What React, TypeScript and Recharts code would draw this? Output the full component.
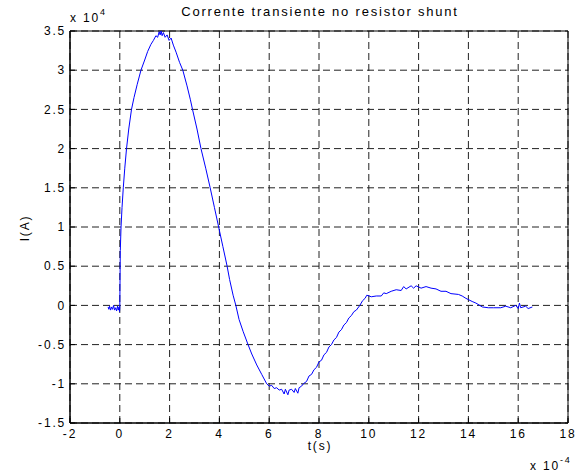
import React from "react";
import { LineChart, Line, XAxis, YAxis, CartesianGrid, ReferenceArea } from "recharts";

// t in units of 1e-4 s, I in units of 1e4 A
const tempo = [
  -0.47, -0.44, -0.41, -0.37, -0.33, -0.29, -0.25, -0.21, -0.17, -0.13, -0.09, -0.06, -0.03, -0.01, 0.0,
  0.01, 0.02, 0.05, 0.09, 0.14, 0.2, 0.27, 0.36, 0.47, 0.57, 0.7, 0.85, 1.0, 1.12, 1.25, 1.35, 1.45,
  1.52, 1.58, 1.62, 1.66, 1.7, 1.75, 1.82, 1.9, 1.98, 2.06, 2.15, 2.26, 2.4, 2.53, 2.7, 2.83, 2.92,
  3.1, 3.26, 3.45, 3.63, 3.8, 3.97, 4.14, 4.31, 4.41, 4.55, 4.66, 4.79, 4.95, 5.15, 5.3, 5.5, 5.7,
  5.9, 6.0, 6.1, 6.2, 6.3, 6.4, 6.5, 6.6, 6.65, 6.75, 6.8, 6.9, 7.0, 7.05, 7.15, 7.2, 7.3, 7.37,
  7.5, 7.6, 7.7, 7.8, 7.9, 8.0, 8.1, 8.2, 8.3, 8.4, 8.5, 8.6, 8.7, 8.8, 8.9, 9.0, 9.1, 9.2, 9.3,
  9.4, 9.5, 9.64, 9.75, 9.85, 9.92, 10.1, 10.3, 10.5, 10.6, 10.7, 10.9, 11.1, 11.3, 11.4, 11.5,
  11.7, 11.8, 11.9, 12.1, 12.3, 12.5, 12.7, 12.9, 13.1, 13.3, 13.6, 13.75, 13.9, 14.15, 14.3,
  14.56, 14.8, 15.0, 15.3, 15.5, 15.7, 15.9, 16.0, 16.05, 16.1, 16.3, 16.4, 16.57,
];

const corrente = [
  -0.02, -0.05, -0.01, -0.06, -0.02, -0.05, 0.0, -0.06, -0.03, -0.07, -0.01, -0.06, -0.02, -0.08, -0.03,
  0.35, 0.7, 1.0, 1.25, 1.5, 1.75, 2.0, 2.25, 2.5, 2.65, 2.82, 3.0, 3.13, 3.24, 3.33, 3.38, 3.44,
  3.42, 3.49, 3.45, 3.5, 3.44, 3.48, 3.42, 3.45, 3.38, 3.41, 3.32, 3.23, 3.1, 3.0, 2.8, 2.63, 2.5,
  2.25, 2.0, 1.75, 1.5, 1.25, 1.0, 0.75, 0.5, 0.33, 0.13, 0.0, -0.18, -0.33, -0.5, -0.62, -0.76, -0.88,
  -1.0, -1.03, -1.02, -1.06, -1.05, -1.08, -1.07, -1.13, -1.07, -1.14, -1.08, -1.07, -1.11, -1.06, -1.12, -1.05, -1.03, -1.0,
  -0.97, -0.9, -0.88, -0.82, -0.79, -0.72, -0.7, -0.63, -0.6, -0.53, -0.5, -0.44, -0.41, -0.34, -0.31, -0.25, -0.22, -0.16, -0.13,
  -0.08, -0.06, 0.0, 0.06, 0.09, 0.13, 0.11, 0.12, 0.12, 0.16, 0.15, 0.18, 0.2, 0.19, 0.24, 0.21,
  0.25, 0.22, 0.25, 0.22, 0.24, 0.22, 0.21, 0.18, 0.18, 0.15, 0.14, 0.12, 0.09, 0.05, 0.03,
  -0.02, -0.03, -0.03, -0.03, -0.01, -0.03, 0.0, -0.04, 0.03, -0.03, -0.01, -0.04, -0.02,
];

const xTicks = [-2, 0, 2, 4, 6, 8, 10, 12, 14, 16, 18];
const yTicks = [-1.5, -1, -0.5, 0, 0.5, 1, 1.5, 2, 2.5, 3, 3.5];

const data = tempo.map((t, i) => ({ t, i: corrente[i] }));

const font = "'Liberation Sans', Arial, sans-serif";
const tickStyle = { fontSize: 12, fill: "#000", fontFamily: font, letterSpacing: 1.8 };

const App: React.FC = () => {
  return (
    <div style={{ position: "absolute", left: 0, top: 0, width: 582, height: 472, background: "#fff" }}>
      <LineChart width={582} height={472} data={data} margin={{ top: 31, right: 14, bottom: 29, left: 30 }}>
        <CartesianGrid stroke="#222" strokeDasharray="7 4" />
        <XAxis
          dataKey="t"
          type="number"
          domain={[-2, 18]}
          ticks={xTicks}
          height={20}
          tick={tickStyle}
          tickSize={-5}
          tickMargin={11}
          stroke="#000"
          interval={0}
        />
        <YAxis
          type="number"
          domain={[-1.5, 3.5]}
          ticks={yTicks}
          width={40}
          tick={tickStyle}
          tickSize={-5}
          tickMargin={9}
          stroke="#000"
          interval={0}
        />
        <ReferenceArea x1={-2} x2={18} y1={-1.5} y2={3.5} fill="none" stroke="#000" strokeOpacity={1} />
        <Line dataKey="i" stroke="#0000ff" strokeWidth={1} dot={false} isAnimationActive={false} />
      </LineChart>
      <svg width={582} height={472} style={{ position: "absolute", left: 0, top: 0, pointerEvents: "none" }}>
        <g fontFamily={font} fontSize={12} fill="#000" letterSpacing={1.8}>
          <text x={320} y={16} textAnchor="middle" fontSize={13}>Corrente transiente no resistor shunt</text>
          <text x={70} y={22}>
            x 10<tspan fontSize={9} dy={-7}>4</tspan>
          </text>
          <text x={320} y={450} textAnchor="middle">t(s)</text>
          <text x={530} y={470}>
            x 10<tspan fontSize={9} dy={-7}>-4</tspan>
          </text>
          <text x={0} y={0} textAnchor="middle" transform="translate(29,228) rotate(-90)">I(A)</text>
        </g>
      </svg>
    </div>
  );
};

export default App;
